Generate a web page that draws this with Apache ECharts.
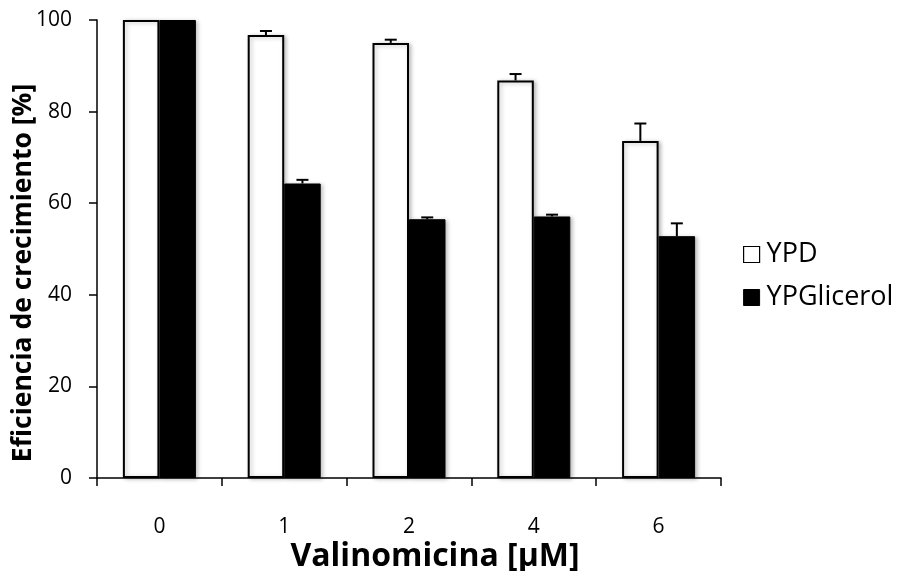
<!DOCTYPE html>
<html>
<head>
<meta charset="utf-8">
<script src="https://cdn.jsdelivr.net/npm/echarts@6/dist/echarts.min.js"></script>
<style>html,body{margin:0;padding:0;background:#fff;}#c{width:899px;height:571px;}</style>
</head>
<body>
<div id="c"></div>
<script>
const categories = ['0', '1', '2', '4', '6'];
const ypd = [100, 96.7, 95.0, 86.8, 73.6];
const ypdErr = [0, 0.9, 0.7, 1.4, 3.8];
const ypg = [100, 64.3, 56.5, 57.1, 52.8];
const ypgErr = [0, 0.8, 0.4, 0.4, 2.8];
const yTicks = [0, 20, 40, 60, 80, 100];

const FONT = '"Open Sans"';
const BAR_W = 36.5;

function errSeries(name, vals, errs, offset) {
  return {
    type: 'custom',
    name: name + ' err',
    z: 5,
    silent: true,
    data: vals.map((v, i) => [i, v, v + errs[i]]),
    renderItem: function (params, api) {
      const i = api.value(0);
      const lo = api.coord([i, api.value(1)]);
      const hi = api.coord([i, api.value(2)]);
      if (hi[1] >= lo[1] - 0.5) return null;
      const x = lo[0] + offset;
      const hw = 6;
      const st = { stroke: '#000', lineWidth: 2 };
      return {
        type: 'group',
        children: [
          { type: 'line', shape: { x1: x, y1: lo[1], x2: x, y2: hi[1] }, style: st },
          { type: 'line', shape: { x1: x - hw, y1: hi[1], x2: x + hw, y2: hi[1] }, style: st }
        ]
      };
    }
  };
}

const chart = echarts.init(document.getElementById('c'), null, { renderer: 'canvas' });
chart.setOption({
  animation: false,
  backgroundColor: '#fff',
  textStyle: { fontFamily: FONT },
  grid: { left: 97, right: 178, top: 20, bottom: 93, containLabel: false, outerBoundsMode: 'none' },
  legend: {
    orient: 'vertical',
    left: 738,
    top: 236,
    itemGap: 16,
    itemWidth: 16,
    itemHeight: 16,
    icon: 'rect',
    data: [
      { name: 'YPD', itemStyle: { color: '#fff', borderColor: '#000', borderWidth: 1.2 } },
      { name: 'YPGlicerol', itemStyle: { color: '#000', borderColor: '#000', borderWidth: 1 } }
    ],
    textStyle: { fontFamily: FONT, fontSize: 27, color: '#000', padding: [0, 0, 0, 2] }
  },
  xAxis: {
    type: 'category',
    data: categories,
    name: 'Valinomicina [µM]',
    nameLocation: 'middle',
    nameGap: 63,
    nameMoveOverlap: false,
    nameTextStyle: { fontFamily: FONT, fontSize: 32, fontWeight: 'bold', color: '#000', padding: [0, 0, 0, 52] },
    axisLine: { lineStyle: { color: '#000', width: 1.5 } },
    axisTick: { show: true, length: 8, lineStyle: { color: '#000', width: 1.5 } },
    axisLabel: { fontFamily: FONT, fontSize: 21, color: '#000', margin: 39 }
  },
  yAxis: {
    type: 'value',
    min: 0,
    max: 100,
    interval: 20,
    name: 'Eficiencia de crecimiento [%]',
    nameLocation: 'middle',
    nameGap: 60,
    nameMoveOverlap: false,
    nameTextStyle: { fontFamily: FONT, fontSize: 26.5, fontWeight: 'bold', color: '#000', padding: [0, 48, 0, 0] },
    axisLine: { show: true, lineStyle: { color: '#000', width: 1.5 } },
    axisTick: { show: true, length: 8, lineStyle: { color: '#000', width: 1.5 } },
    splitLine: { show: false },
    axisLabel: {
      fontFamily: FONT, fontSize: 21, color: '#000', margin: 25,
      formatter: function (v) { return yTicks.indexOf(v) >= 0 ? String(v) : ''; }
    }
  },
  series: [
    {
      name: 'YPD', type: 'bar', data: ypd, barWidth: BAR_W, barGap: '0%',
      itemStyle: { color: '#fff', borderColor: '#000', borderWidth: 2,
        shadowColor: 'rgba(0,0,0,0.25)', shadowBlur: 4, shadowOffsetX: 2, shadowOffsetY: 1 }
    },
    {
      name: 'YPGlicerol', type: 'bar', data: ypg, barWidth: BAR_W, barGap: '0%',
      itemStyle: { color: '#000', borderColor: '#000', borderWidth: 1,
        shadowColor: 'rgba(0,0,0,0.25)', shadowBlur: 4, shadowOffsetX: 2, shadowOffsetY: 1 }
    },
    errSeries('YPD', ypd, ypdErr, -BAR_W / 2),
    errSeries('YPGlicerol', ypg, ypgErr, BAR_W / 2)
  ]
});
</script>
</body>
</html>
